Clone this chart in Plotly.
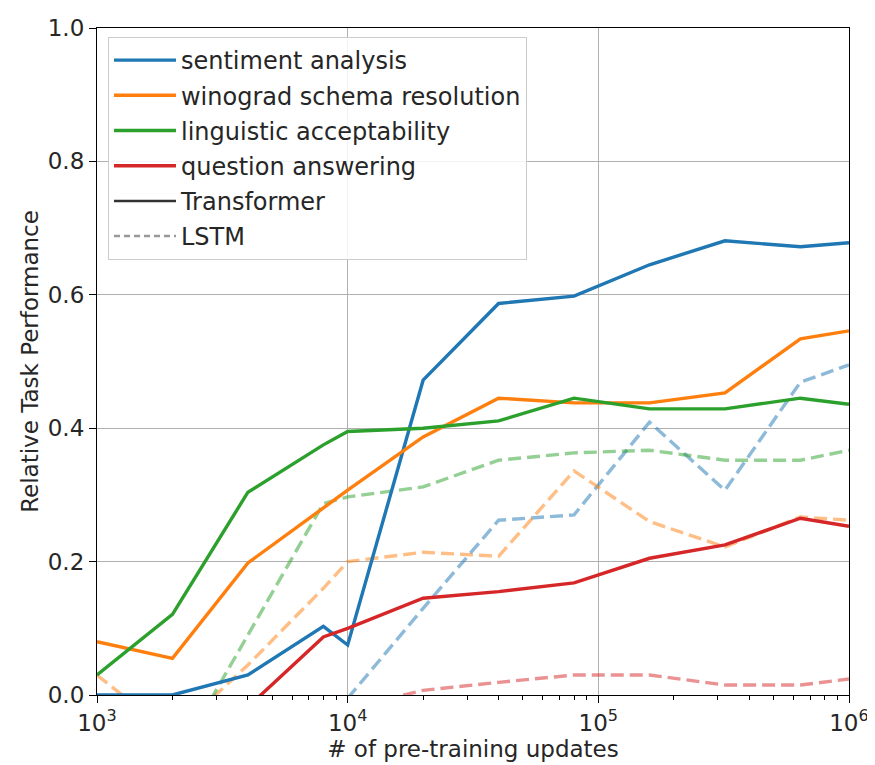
import plotly.graph_objects as go

# pre-training updates (x values)
updates = [1000, 2000, 4000, 8000, 10000, 20000, 40000, 80000, 160000, 320000, 640000, 1000000]

tasks = ["sentiment analysis", "winograd schema resolution", "linguistic acceptability", "question answering"]
colors = ["#1f77b4", "#ff7f0e", "#2ca02c", "#d62728"]

# Transformer (solid)
sentiment_tf = [0.0, 0.0, 0.03, 0.103, 0.075, 0.472, 0.587, 0.598, 0.645, 0.681, 0.672, 0.678]
winograd_tf = [0.08, 0.055, 0.198, 0.28, 0.307, 0.387, 0.445, 0.438, 0.438, 0.453, 0.534, 0.546]
linguistic_tf = [0.03, 0.121, 0.304, 0.375, 0.395, 0.40, 0.411, 0.445, 0.429, 0.429, 0.445, 0.436]
qa_tf = [None, None, -0.018, 0.087, 0.10, 0.145, 0.155, 0.168, 0.205, 0.225, 0.265, 0.253]

# LSTM (dashed)
sentiment_lstm = [None, None, None, None, -0.005, 0.13, 0.262, 0.27, 0.409, 0.307, 0.469, 0.495]
winograd_lstm = [0.03, -0.06, 0.045, 0.16, 0.20, 0.214, 0.208, 0.336, 0.26, 0.222, 0.267, 0.262]
linguistic_lstm = [None, -0.107, 0.09, 0.287, 0.297, 0.312, 0.352, 0.363, 0.367, 0.352, 0.352, 0.367]
qa_lstm = [None, None, None, None, -0.02, 0.007, 0.019, 0.03, 0.03, 0.015, 0.015, 0.024]

tf_series = [sentiment_tf, winograd_tf, linguistic_tf, qa_tf]
lstm_series = [sentiment_lstm, winograd_lstm, linguistic_lstm, qa_lstm]

x_tickvals = [1e3, 1e4, 1e5, 1e6]
x_ticktext = ["10<sup>3</sup>", "10<sup>4</sup>", "10<sup>5</sup>", "10<sup>6</sup>"]
y_tickvals = [0.0, 0.2, 0.4, 0.6, 0.8, 1.0]
y_ticktext = ["0.0", "0.2", "0.4", "0.6", "0.8", "1.0"]

FONT = "DejaVu Sans"
TXT = "#262626"
FS = 23

fig = go.Figure()

# LSTM dashed first (drawn beneath)
for name, col, ys in zip(tasks, colors, lstm_series):
    fig.add_trace(go.Scatter(
        x=updates, y=ys, mode="lines", name=name + " (LSTM)",
        line=dict(color=col, width=3.4, dash="13px,6px"),
        opacity=0.5, showlegend=False, legendgroup=name,
    ))

for name, col, ys in zip(tasks, colors, tf_series):
    fig.add_trace(go.Scatter(
        x=updates, y=ys, mode="lines", name=name,
        line=dict(color=col, width=3.4), legendgroup=name,
    ))

# Style legend entries
fig.add_trace(go.Scatter(x=[None], y=[None], mode="lines", name="Transformer",
                         line=dict(color="#333333", width=2.5), legendgroup="Transformer"))
fig.add_trace(go.Scatter(x=[None], y=[None], mode="lines", name="LSTM",
                         line=dict(color="#333333", width=2.5, dash="6px,4px"), opacity=0.5,
                         legendgroup="LSTM"))

minor_vals = []
for d in [1e3, 1e4, 1e5]:
    for k in range(2, 10):
        minor_vals.append(d * k)

fig.update_layout(
    width=867, height=757,
    margin=dict(l=89, r=26, t=20, b=70),
    paper_bgcolor="white", plot_bgcolor="white",
    font=dict(family=FONT, size=FS, color=TXT),
    legend=dict(
        x=0.0146, y=0.9865, xanchor="left", yanchor="top",
        bgcolor="rgba(255,255,255,0.85)", bordercolor="#cccccc", borderwidth=1,
        font=dict(family=FONT, size=24, color=TXT),
        tracegroupgap=1, itemwidth=62,
    ),
    xaxis=dict(
        type="log", range=[3, 6], automargin=False,
        tickmode="array", tickvals=x_tickvals, ticktext=x_ticktext,
        ticks="outside", ticklen=7, tickwidth=1, tickcolor="black",
        tickfont=dict(family=FONT, size=FS, color=TXT),
        showgrid=True, gridcolor="#b0b0b0", gridwidth=1,
        showline=True, linecolor="black", linewidth=1.2, mirror=True,
        zeroline=False,
        minor=dict(tickmode="array", tickvals=minor_vals, ticks="outside",
                   ticklen=4, tickcolor="black", showgrid=False),
        title=dict(text="# of pre-training updates", standoff=0,
                   font=dict(family=FONT, size=FS, color=TXT)),
    ),
    yaxis=dict(
        range=[0, 1.0], automargin=False,
        tickmode="array", tickvals=y_tickvals, ticktext=y_ticktext,
        ticks="outside", ticklen=7, tickwidth=1, tickcolor="black",
        tickfont=dict(family=FONT, size=FS, color=TXT),
        showgrid=True, gridcolor="#b0b0b0", gridwidth=1,
        showline=True, linecolor="black", linewidth=1.2, mirror=True,
        zeroline=False,
        title=dict(text="Relative Task Performance", standoff=2,
                   font=dict(family=FONT, size=FS, color=TXT)),
    ),
)

fig.write_html("out.html")
